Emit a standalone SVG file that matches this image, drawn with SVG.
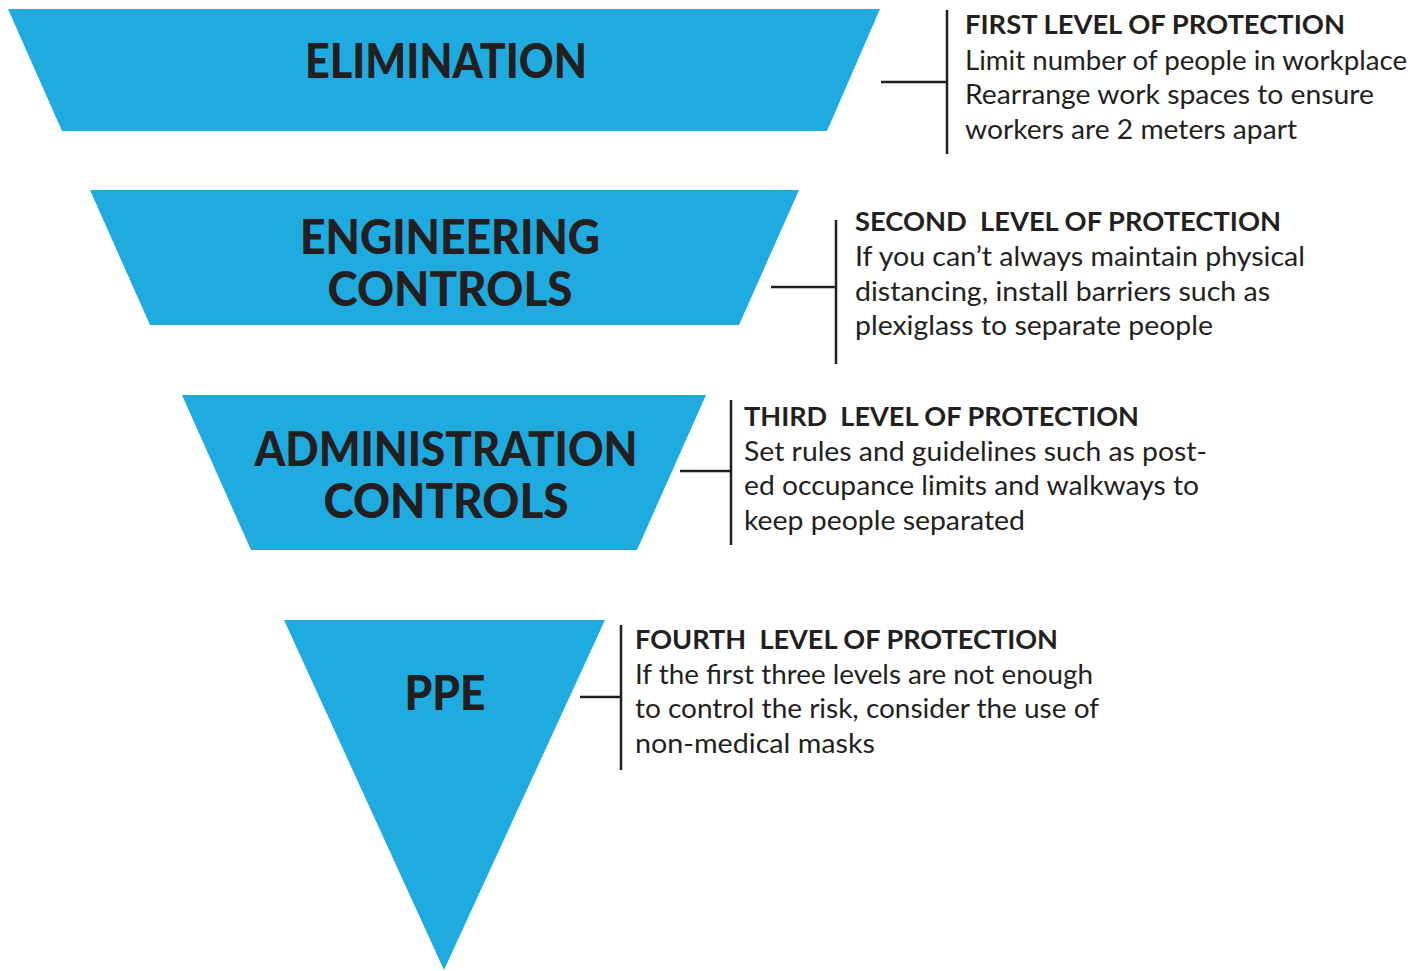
<svg xmlns="http://www.w3.org/2000/svg" width="1425" height="971" viewBox="0 0 1425 971">
<style>
.shape{fill:#1FABE0}
.title{font-family:Lato,"Liberation Sans",sans-serif;font-weight:900;font-size:47px;fill:#231F20;text-anchor:middle}
.head{font-family:Lato,"Liberation Sans",sans-serif;font-weight:700;font-size:26px;fill:#231F20}
.body{font-family:Lato,"Liberation Sans",sans-serif;font-weight:400;font-size:26px;fill:#231F20}
.conn{stroke:#231F20;stroke-width:2.5;fill:none}
</style>
<rect width="1425" height="971" fill="#fff"/>
<g id="elimination">
<polygon class="shape" points="8,9 880,9 827,131 62,131"/>
<text class="title" x="446" y="78" textLength="282" lengthAdjust="spacingAndGlyphs">ELIMINATION</text>
</g>
<g id="engineering">
<polygon class="shape" points="90,190 799,190 739,325 150,325"/>
<text class="title" x="450" y="254" textLength="300" lengthAdjust="spacingAndGlyphs">ENGINEERING</text>
<text class="title" x="450" y="306" textLength="245" lengthAdjust="spacingAndGlyphs">CONTROLS</text>
</g>
<g id="administration">
<polygon class="shape" points="182,395 706,395 637,550 251,550"/>
<text class="title" x="446" y="466" textLength="383" lengthAdjust="spacingAndGlyphs">ADMINISTRATION</text>
<text class="title" x="446" y="518" textLength="245" lengthAdjust="spacingAndGlyphs">CONTROLS</text>
</g>
<g id="ppe">
<polygon class="shape" points="284,620 605,620 444,970"/>
<text class="title" x="445" y="710" textLength="81" lengthAdjust="spacingAndGlyphs">PPE</text>
</g>
<g id="connectors">
<path class="conn" d="M881,82 H947 M947,10 V154"/>
<path class="conn" d="M771,287 H836 M836,220 V364"/>
<path class="conn" d="M680,471 H731 M731,400 V545"/>
<path class="conn" d="M580,697 H621 M621,625 V770"/>
</g>
<g id="level1">
<text class="head" x="965" y="34" textLength="380" lengthAdjust="spacingAndGlyphs">FIRST LEVEL OF PROTECTION</text>
<text class="body" x="965" y="70" textLength="442" lengthAdjust="spacingAndGlyphs">Limit number of people in workplace</text>
<text class="body" x="965" y="104" textLength="409" lengthAdjust="spacingAndGlyphs">Rearrange work spaces to ensure</text>
<text class="body" x="965" y="139" textLength="332" lengthAdjust="spacingAndGlyphs">workers are 2 meters apart</text>
</g>
<g id="level2">
<text class="head" x="855" y="231" textLength="426" lengthAdjust="spacingAndGlyphs" xml:space="preserve">SECOND  LEVEL OF PROTECTION</text>
<text class="body" x="855" y="266" textLength="450" lengthAdjust="spacingAndGlyphs">If you can’t always maintain physical</text>
<text class="body" x="855" y="301" textLength="415" lengthAdjust="spacingAndGlyphs">distancing, install barriers such as</text>
<text class="body" x="855" y="335" textLength="358" lengthAdjust="spacingAndGlyphs">plexiglass to separate people</text>
</g>
<g id="level3">
<text class="head" x="744" y="426" textLength="395" lengthAdjust="spacingAndGlyphs" xml:space="preserve">THIRD  LEVEL OF PROTECTION</text>
<text class="body" x="744" y="461" textLength="463" lengthAdjust="spacingAndGlyphs">Set rules and guidelines such as post-</text>
<text class="body" x="744" y="495" textLength="455" lengthAdjust="spacingAndGlyphs">ed occupance limits and walkways to</text>
<text class="body" x="744" y="530" textLength="281" lengthAdjust="spacingAndGlyphs">keep people separated</text>
</g>
<g id="level4">
<text class="head" x="635" y="649" textLength="423" lengthAdjust="spacingAndGlyphs" xml:space="preserve">FOURTH  LEVEL OF PROTECTION</text>
<text class="body" x="635" y="684" textLength="458" lengthAdjust="spacingAndGlyphs">If the first three levels are not enough</text>
<text class="body" x="635" y="718" textLength="464" lengthAdjust="spacingAndGlyphs">to control the risk, consider the use of</text>
<text class="body" x="635" y="753" textLength="240" lengthAdjust="spacingAndGlyphs">non-medical masks</text>
</g>
</svg>
